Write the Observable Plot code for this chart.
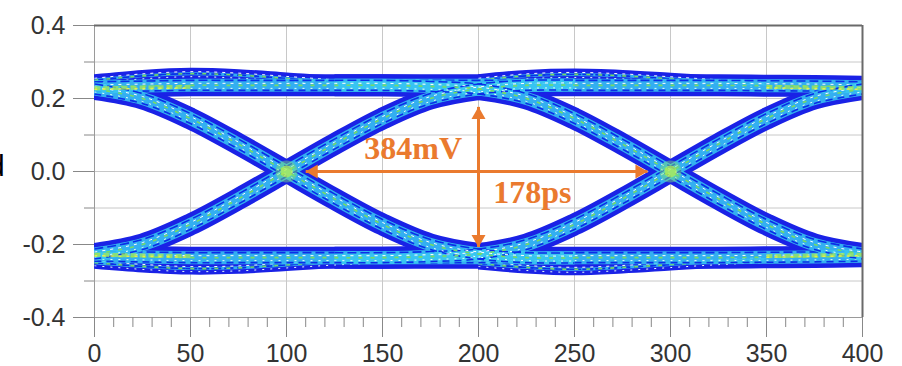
<!DOCTYPE html>
<html>
<head>
<meta charset="utf-8">
<script src="https://cdn.jsdelivr.net/npm/d3@7"></script>
<script src="https://cdn.jsdelivr.net/npm/@observablehq/plot@0.6"></script>
<style>
  html, body { margin: 0; padding: 0; background: #fff; overflow: hidden; }
  #wrap { position: relative; width: 902px; height: 366px; }
  #cut { position: absolute; left: -12px; top: 151px; font: 30px "Liberation Sans", Arial, sans-serif; color: #000; z-index: 2; line-height: 1; }
</style>
</head>
<body>
<div id="wrap"><div id="cut">d</div></div>
<script>
// ---- data ----
const timePs = [0, 25, 50, 75, 100, 125, 150, 175, 200, 225, 250, 275, 300, 325, 350, 375, 400];

// center lines of the trace bands (V); null = trace not present
const steadyHigh = [0.232, 0.234, 0.236, 0.236, 0.236, 0.236, 0.236, 0.236, 0.236, 0.236, 0.236, 0.236, 0.236, 0.236, 0.235, 0.234, 0.232];
const steadyLow  = [-0.232, -0.234, -0.236, -0.236, -0.236, -0.236, -0.236, -0.236, -0.236, -0.236, -0.236, -0.236, -0.236, -0.236, -0.235, -0.234, -0.232];
const denseHigh  = [0.228, 0.23, 0.232, null, null, null, null, null, null, null, null, null, null, null, 0.232, 0.23, 0.228];
const denseLow   = [-0.228, -0.23, -0.232, null, null, null, null, null, null, null, null, null, null, null, -0.232, -0.23, -0.228];
const fall1 = [0.226, 0.2, 0.145, 0.075, 0, -0.075, -0.145, -0.2, -0.226, -0.236, -0.237, null, null, null, null, null, null];
const rise1 = [-0.226, -0.2, -0.145, -0.075, 0, 0.075, 0.145, 0.2, 0.226, 0.236, 0.237, null, null, null, null, null, null];
const fall2 = [null, null, null, null, null, 0.236, 0.236, 0.233, 0.226, 0.2, 0.145, 0.075, 0, -0.075, -0.145, -0.2, -0.226];
const rise2 = [null, null, null, null, null, -0.236, -0.236, -0.233, -0.226, -0.2, -0.145, -0.075, 0, 0.075, 0.145, 0.2, 0.226];
const overshoot1  = [0.25, 0.262, 0.268, 0.264, 0.255, 0.246, 0.24, null, null, null, null, null, null, null, null, null, null];
const overshoot2  = [null, null, null, null, null, null, null, null, 0.25, 0.262, 0.266, 0.262, 0.254, 0.246, 0.24, null, null];
const undershoot1 = [-0.25, -0.26, -0.266, -0.264, -0.256, -0.248, -0.242, null, null, null, null, null, null, null, null, null, null];
const undershoot2 = [null, null, null, null, null, null, null, null, -0.252, -0.263, -0.268, -0.263, -0.255, -0.247, -0.241, null, null];

const crossingsPs = [100, 300];
const eyeWidthPs = [110, 288];        // 178 ps
const eyeHeightV = [-0.207, 0.177];   // 384 mV
const eyeLabels = ["384mV", "178ps"];
const labelPs = [166, 228];
const labelV = [0.063, -0.057];

const yMajorTicks = [-0.4, -0.2, 0, 0.2, 0.4];
const yMinorTicks = [-0.3, -0.1, 0.1, 0.3];
const yGridTicks = [-0.4, -0.3, -0.2, -0.1, 0, 0.1, 0.2, 0.3, 0.4];
const xMajorTicks = [0, 50, 100, 150, 200, 250, 300, 350, 400];
const xMinorTicks = [10, 20, 30, 40, 60, 70, 80, 90, 110, 120, 130, 140, 160, 170, 180, 190, 210, 220, 230, 240, 260, 270, 280, 290, 310, 320, 330, 340, 360, 370, 380, 390];

// ---- build tables ----
function table(groups) {
  return groups.flatMap(([name, vals]) =>
    timePs.map((x, i) => ({x, y: vals[i], trace: name})).filter(d => d.y != null));
}
const steady = table([["high", steadyHigh], ["low", steadyLow]]);
const dense = table([["hi", denseHigh], ["lo", denseLow]]).map(d => ({...d, trace: d.trace + (d.x < 200 ? "L" : "R")}));
const edges = table([["f1", fall1], ["r1", rise1], ["f2", fall2], ["r2", rise2]]);
const humps = table([["o1", overshoot1], ["o2", overshoot2], ["u1", undershoot1], ["u2", undershoot2]]);
const xMid = (crossingsPs[0] + crossingsPs[1]) / 2;
const arrows = [
  {x1: eyeWidthPs[0], x2: eyeWidthPs[1], y1: 0, y2: 0},
  {x1: xMid, x2: xMid, y1: eyeHeightV[0], y2: eyeHeightV[1]}
];
const labels = eyeLabels.map((t, i) => ({t, x: labelPs[i], y: labelV[i]}));

const orange = "#EA7A2E";
const base = "#1a22e6";
const cyan = "#38c8f2";

const common = {x: "x", y: "y", z: "trace", curve: "catmull-rom", clip: true, strokeLinecap: "butt"};
function band(data, w) {
  return [Plot.line(data, {...common, stroke: base, strokeWidth: w})];
}
function core(data, w) {
  return [
    Plot.line(data, {...common, stroke: cyan, strokeWidth: Math.max(2, w - 9), strokeOpacity: 0.85}),
    Plot.line(data, {...common, stroke: "#0b2ee8", strokeWidth: 1.6, strokeDasharray: "9,4", dy: -Math.round(w / 2) + 6}),
    Plot.line(data, {...common, stroke: "#0b2ee8", strokeWidth: 1.6, strokeDasharray: "7,5", dy: Math.round(w / 2) - 6}),
    Plot.line(data, {...common, stroke: "#ffffff", strokeWidth: 1, strokeDasharray: "3,5", dy: -2}),
    Plot.line(data, {...common, stroke: "#e8fff8", strokeWidth: 1, strokeDasharray: "2,6", dy: 3}),
    Plot.line(data, {...common, stroke: "#76dc66", strokeWidth: 1.6, strokeDasharray: "4,8", dy: 0})
  ];
}

const chart = Plot.plot({
  width: 902,
  height: 366,
  marginLeft: 94,
  marginRight: 40,
  marginTop: 25,
  marginBottom: 49,
  x: {domain: [0, 400]},
  y: {domain: [-0.4, 0.4]},
  style: {fontFamily: "'Liberation Sans', Arial, sans-serif", fontSize: "25px", background: "#fff"},
  marks: [
    Plot.gridY(yGridTicks, {stroke: "#c8c8c8", strokeOpacity: 1}),
    Plot.gridX(xMajorTicks, {stroke: "#c8c8c8", strokeOpacity: 1}),
    Plot.ruleX([0], {stroke: "#9a9a9a"}),
    Plot.ruleY([-0.4], {stroke: "#9a9a9a"}),
    ...band(humps, 12),
    ...band(steady, 22),
    ...band(edges, 22),
    ...core(humps, 12),
    ...core(steady, 22),
    ...core(edges, 22),
    Plot.line(dense, {...common, stroke: "#9ee65a", strokeWidth: 4, strokeDasharray: "6,3", strokeOpacity: 0.8}),
    Plot.line(dense, {...common, stroke: "#e6ee48", strokeWidth: 1.5, strokeDasharray: "3,5", dy: 1}),
    Plot.dot(crossingsPs, {x: d => d, y: () => 0, r: 11, fill: "#7fe070", fillOpacity: 0.45}),
    Plot.dot(crossingsPs, {x: d => d, y: () => 0, r: 6, fill: "#b8ee50", fillOpacity: 0.7}),
    Plot.ruleY([0.4], {stroke: "#6a6a6a", strokeWidth: 2}),
    Plot.ruleX([400], {stroke: "#6a6a6a", strokeWidth: 2}),
    Plot.axisY(yMajorTicks, {tickSize: 21, tickPadding: 8, stroke: "#888", fill: "#333", tickFormat: d => d.toFixed(1)}),
    Plot.axisY(yMinorTicks, {tickSize: 10, stroke: "#888", tickFormat: () => ""}),
    Plot.axisX(xMajorTicks, {tickSize: 20, tickPadding: 7, stroke: "#888", fill: "#333", tickFormat: d => String(d)}),
    Plot.axisX(xMinorTicks, {tickSize: 10, stroke: "#888", tickFormat: () => ""}),
    // annotations
    Plot.link(arrows, {x1: "x1", x2: "x2", y1: "y1", y2: "y2", stroke: orange, strokeWidth: 3}),
    Plot.dot([eyeWidthPs[1]], {x: d => d, y: () => 0, symbol: "triangle", r: 5.2, rotate: 90, dx: -8, fill: orange, stroke: "none"}),
    Plot.dot([eyeWidthPs[0]], {x: d => d, y: () => 0, symbol: "triangle", r: 5.2, rotate: -90, dx: 8, fill: orange, stroke: "none"}),
    Plot.dot([eyeHeightV[1]], {x: () => xMid, y: d => d, symbol: "triangle", r: 5.2, rotate: 0, dy: 8, fill: orange, stroke: "none"}),
    Plot.dot([eyeHeightV[0]], {x: () => xMid, y: d => d, symbol: "triangle", r: 5.2, rotate: 180, dy: -8, fill: orange, stroke: "none"}),
    Plot.text(labels, {x: "x", y: "y", text: "t", fill: orange, fontSize: 32, fontWeight: "bold", fontFamily: "'Liberation Serif', 'Times New Roman', serif"})
  ]
});
chart.style.position = "absolute";
chart.style.left = "0px";
chart.style.top = "0px";
chart.style.zIndex = "1";
document.getElementById("wrap").appendChild(chart);
</script>
</body>
</html>
